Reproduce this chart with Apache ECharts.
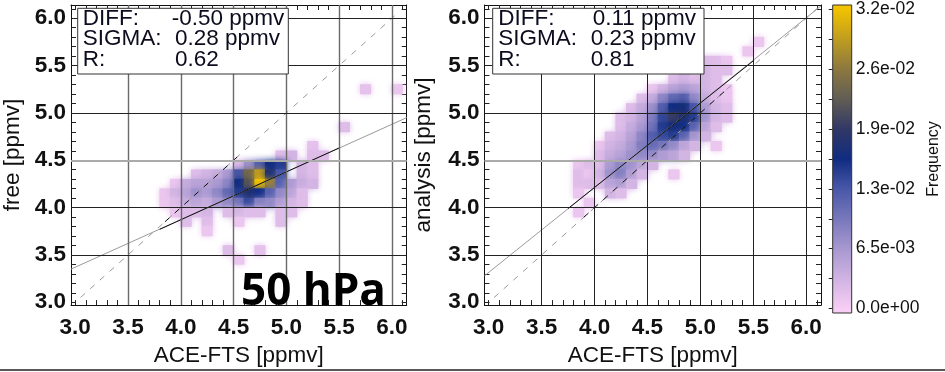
<!DOCTYPE html>
<html><head><meta charset="utf-8">
<script src="https://cdn.jsdelivr.net/npm/echarts@6/dist/echarts.min.js"></script>
<style>html,body{margin:0;padding:0;background:#fff}#chart{width:945px;height:372px}</style>
</head><body><div id="chart"></div>
<script>
// ---------------- data ----------------
const axisRangeX = [2.96, 6.14];
const axisRangeY = [2.97, 6.14];
const majorTicks = [3.0, 3.5, 4.0, 4.5, 5.0, 5.5, 6.0];
const gridValues = [3.5, 4.0, 4.5, 5.0, 5.5, 6.0];
const binSize = 0.1;
const xAxisTitle = 'ACE-FTS [ppmv]';
const leftYTitle = 'free [ppmv]';
const rightYTitle = 'analysis [ppmv]';
const pressureLabel = '50 hPa';
const statLabels = ['DIFF:', 'SIGMA:', 'R:'];
const leftStats = ['-0.50 ppmv', '0.28 ppmv', '0.62'];
const rightStats = ['0.11 ppmv', '0.23 ppmv', '0.81'];
const freqMax = 0.0324;
const cbTickValues = [0, 0.00648, 0.01296, 0.01944, 0.02592, 0.0324];
const cbTickLabels = ['0.0e+00', '6.5e-03', '1.3e-02', '1.9e-02', '2.6e-02', '3.2e-02'];
const colorbarRange = [-0.0005, 0.0329];
const colorbarTitle = 'Frequency';
const palette = ['#f7cef4','#d0b3e2','#a898d0','#7878bc','#4858a8','#102c81','#313866','#615d54','#8c7840','#bf9d20','#f2c200'];

// [x lower edge, y lower edge, frequency]
const leftFreq = [
  [5.7,5.2,0.0015],[6.0,5.2,0.001],
  [5.5,4.8,0.002],
  [5.2,4.6,0.0015],
  [4.9,4.5,0.002],[5.0,4.5,0.003],[5.2,4.5,0.002],[5.3,4.5,0.002],
  [4.5,4.4,0.002],[4.6,4.4,0.007],[4.7,4.4,0.012],[4.8,4.4,0.016],[4.9,4.4,0.015],[5.1,4.4,0.003],[5.2,4.4,0.002],
  [4.1,4.3,0.002],[4.2,4.3,0.003],[4.3,4.3,0.004],[4.4,4.3,0.006],[4.5,4.3,0.013],[4.6,4.3,0.024],[4.7,4.3,0.029],[4.8,4.3,0.018],[4.9,4.3,0.013],[5.1,4.3,0.003],[5.2,4.3,0.002],
  [3.9,4.2,0.001],[4.0,4.2,0.004],[4.1,4.2,0.005],[4.2,4.2,0.005],[4.3,4.2,0.006],[4.4,4.2,0.008],[4.5,4.2,0.016],[4.6,4.2,0.022],[4.7,4.2,0.0324],[4.8,4.2,0.027],[4.9,4.2,0.012],[5.0,4.2,0.006],[5.1,4.2,0.004],[5.2,4.2,0.003],
  [3.8,4.1,0.001],[3.9,4.1,0.003],[4.0,4.1,0.005],[4.1,4.1,0.007],[4.2,4.1,0.006],[4.3,4.1,0.008],[4.4,4.1,0.011],[4.5,4.1,0.015],[4.6,4.1,0.018],[4.7,4.1,0.016],[4.8,4.1,0.012],[4.9,4.1,0.008],[5.0,4.1,0.005],[5.1,4.1,0.002],
  [3.8,4.0,0.001],[3.9,4.0,0.002],[4.0,4.0,0.004],[4.1,4.0,0.005],[4.2,4.0,0.004],[4.3,4.0,0.006],[4.4,4.0,0.008],[4.5,4.0,0.010],[4.6,4.0,0.014],[4.7,4.0,0.009],[4.8,4.0,0.008],[4.9,4.0,0.006],[5.0,4.0,0.003],[5.1,4.0,0.002],
  [3.9,3.9,0.001],[4.0,3.9,0.002],[4.1,3.9,0.002],[4.2,3.9,0.003],[4.4,3.9,0.002],[4.5,3.9,0.003],[4.6,3.9,0.002],[4.7,3.9,0.002],[4.9,3.9,0.002],[5.0,3.9,0.002],
  [4.0,3.8,0.002],[4.2,3.8,0.002],[4.5,3.8,0.001],[4.9,3.8,0.002],
  [4.2,3.7,0.001],
  [4.4,3.5,0.002],[4.7,3.5,0.0015],
  [4.5,3.4,0.001]
];
const rightFreq = [
  [5.4,5.6,0.001],[5.5,5.7,0.001],
  [5.0,5.5,0.002],[5.1,5.5,0.002],[5.2,5.5,0.001],
  [4.8,5.4,0.002],[5.0,5.4,0.003],[5.1,5.4,0.002],[5.2,5.4,0.002],
  [4.7,5.3,0.002],[4.8,5.3,0.003],[4.9,5.3,0.002],[5.0,5.3,0.003],[5.1,5.3,0.002],
  [4.5,5.2,0.001],[4.6,5.2,0.003],[4.7,5.2,0.005],[4.8,5.2,0.006],[4.9,5.2,0.005],[5.0,5.2,0.003],[5.1,5.2,0.002],[5.2,5.2,0.001],
  [4.4,5.1,0.002],[4.5,5.1,0.004],[4.6,5.1,0.008],[4.7,5.1,0.011],[4.8,5.1,0.012],[4.9,5.1,0.008],[5.0,5.1,0.004],[5.1,5.1,0.002],[5.2,5.1,0.001],
  [4.3,5.0,0.002],[4.4,5.0,0.004],[4.5,5.0,0.007],[4.6,5.0,0.012],[4.7,5.0,0.016],[4.8,5.0,0.017],[4.9,5.0,0.013],[5.0,5.0,0.006],[5.1,5.0,0.003],[5.2,5.0,0.002],
  [4.2,4.9,0.002],[4.3,4.9,0.003],[4.4,4.9,0.005],[4.5,4.9,0.009],[4.6,4.9,0.014],[4.7,4.9,0.020],[4.8,4.9,0.018],[4.9,4.9,0.015],[5.0,4.9,0.007],[5.1,4.9,0.003],[5.2,4.9,0.002],
  [4.2,4.8,0.002],[4.3,4.8,0.004],[4.4,4.8,0.006],[4.5,4.8,0.010],[4.6,4.8,0.015],[4.7,4.8,0.017],[4.8,4.8,0.016],[4.9,4.8,0.012],[5.0,4.8,0.005],[5.1,4.8,0.002],
  [4.1,4.7,0.002],[4.2,4.7,0.003],[4.3,4.7,0.005],[4.4,4.7,0.008],[4.5,4.7,0.012],[4.6,4.7,0.014],[4.7,4.7,0.015],[4.8,4.7,0.012],[4.9,4.7,0.007],[5.0,4.7,0.003],
  [4.0,4.6,0.001],[4.1,4.6,0.003],[4.2,4.6,0.004],[4.3,4.6,0.006],[4.4,4.6,0.009],[4.5,4.6,0.011],[4.6,4.6,0.010],[4.7,4.6,0.008],[4.8,4.6,0.005],[4.9,4.6,0.003],[5.1,4.6,0.001],
  [4.0,4.5,0.002],[4.1,4.5,0.004],[4.2,4.5,0.005],[4.3,4.5,0.007],[4.4,4.5,0.008],[4.5,4.5,0.008],[4.6,4.5,0.006],[4.7,4.5,0.005],[4.8,4.5,0.003],
  [3.8,4.4,0.001],[3.9,4.4,0.002],[4.0,4.4,0.002],[4.1,4.4,0.006],[4.2,4.4,0.008],[4.3,4.4,0.007],[4.4,4.4,0.005],[4.5,4.4,0.003],
  [3.8,4.3,0.002],[3.9,4.3,0.001],[4.0,4.3,0.003],[4.1,4.3,0.007],[4.2,4.3,0.009],[4.3,4.3,0.006],[4.4,4.3,0.003],[4.7,4.3,0.001],
  [3.8,4.2,0.002],[3.9,4.2,0.002],[4.0,4.2,0.002],[4.1,4.2,0.005],[4.2,4.2,0.006],[4.3,4.2,0.003],
  [3.8,4.1,0.001],[4.1,4.1,0.003],[4.2,4.1,0.002],
  [3.8,3.9,0.001],[3.9,4.0,0.001]
];
// fit lines (end points)
const leftFit = [[2.96,3.35],[6.14,4.95]];
const leftFitCore = [[3.8,3.77],[5.5,4.63]];
const leftOneToOne = [[3.05,3.05],[6.05,6.05]];
const leftOneToOneCore = [[3.85,3.85],[4.55,4.55]];
const rightFit = [[2.96,3.28],[6.14,6.13]];
const rightFitCore = [[3.75,3.99],[5.5,5.55]];
const rightOneToOne = [[3.05,3.05],[6.12,6.12]];
const rightOneToOneCore = [[3.9,3.9],[5.25,5.25]];

// ---------------- chart ----------------
const minorTicks = [];
for (let k = 30; k <= 61; k++) minorTicks.push(k / 10);
const cbMinor = [];
for (let i = 0; i < cbTickValues.length - 1; i++) cbMinor.push(cbTickValues[i], (cbTickValues[i] + cbTickValues[i + 1]) / 2);
cbMinor.push(cbTickValues[cbTickValues.length - 1]);

const FONT = '"Liberation Sans", Arial, sans-serif';
const grids = [
  { left: 68.3, top: 5, width: 338.4, height: 307.7 },
  { left: 484.5, top: 5, width: 336.5, height: 307.7 },
  { left: 832.7, top: 5, width: 19, height: 308 }
];

function boxAxis(gridIndex, position, isX, showLabel, name, nameGap) {
  const r = isX ? axisRangeX : axisRangeY;
  return {
    type: 'value', gridIndex, position, min: r[0], max: r[1],
    axisLine: { show: true, onZero: false, lineStyle: { color: '#111', width: 1 } },
    axisTick: { show: true, inside: true, length: 5, customValues: minorTicks, lineStyle: { color: '#222', width: 1 } },
    axisLabel: showLabel ? {
      show: true, customValues: majorTicks, formatter: v => v.toFixed(1),
      fontFamily: FONT, fontWeight: 'bold', fontSize: 22.5, color: '#111', margin: isX ? 11 : 5
    } : { show: false },
    splitLine: { show: false },
    name: name || '', nameLocation: 'middle', nameGap: nameGap || 0,
    nameTextStyle: { fontFamily: FONT, fontSize: 22.5, color: '#111' }
  };
}

const xAxes = [
  boxAxis(0, 'bottom', true, true, xAxisTitle, 33),
  boxAxis(0, 'top', true, false),
  boxAxis(1, 'bottom', true, true, xAxisTitle, 33),
  boxAxis(1, 'top', true, false),
  { type: 'value', gridIndex: 2, min: 0, max: 1, show: false }
];
const yAxes = [
  boxAxis(0, 'left', false, true, leftYTitle, 47),
  boxAxis(0, 'right', false, false),
  boxAxis(1, 'left', false, true, rightYTitle, 49),
  boxAxis(1, 'right', false, false),
  {
    type: 'value', gridIndex: 2, position: 'right', min: colorbarRange[0], max: colorbarRange[1],
    axisLine: { show: false },
    axisTick: { show: true, inside: true, length: 4, customValues: cbMinor, lineStyle: { color: '#222' } },
    axisLabel: {
      show: true, customValues: cbTickValues, margin: 4,
      formatter: v => { for (let i = 0; i < cbTickValues.length; i++) if (Math.abs(cbTickValues[i] - v) < 1e-6) return cbTickLabels[i]; return ''; },
      fontFamily: FONT, fontSize: 17.5, color: '#111'
    },
    splitLine: { show: false },
    name: colorbarTitle, nameLocation: 'middle', nameRotate: 90, nameGap: 74,
    nameTextStyle: { fontFamily: FONT, fontSize: 16, color: '#111' }
  }
];

function heatSeries(data, xi, yi) {
  return {
    type: 'custom', xAxisIndex: xi, yAxisIndex: yi, data: data, z: 1,
    encode: { x: 0, y: 1 }, silent: true,
    renderItem: function (params, api) {
      const x0 = api.value(0), y0 = api.value(1);
      const p0 = api.coord([x0, y0 + binSize]);
      const p1 = api.coord([x0 + binSize, y0]);
      const c = api.visual('color');
      return {
        type: 'rect',
        shape: { x: p0[0] - 0.3, y: p0[1] - 0.3, width: p1[0] - p0[0] + 0.6, height: p1[1] - p0[1] + 0.6 },
        style: { fill: c, shadowBlur: 6, shadowColor: c }
      };
    }
  };
}

function gridMarkLine(vStyle, hStyle, specialH) {
  return {
    symbol: ['none', 'none'], silent: true, animation: false,
    label: { show: false }, emphasis: { disabled: true },
    data: gridValues.map(v => ({ xAxis: v, lineStyle: vStyle }))
      .concat(gridValues.map(v => ({ yAxis: v, lineStyle: v === 4.5 ? specialH : hStyle })))
  };
}

function lineSeries(data, xi, yi, color, dashed, z, markLine) {
  const s = {
    type: 'line', xAxisIndex: xi, yAxisIndex: yi, data: data, symbol: 'none', silent: true, z: z,
    lineStyle: { color: color, width: 1, type: dashed ? [6, 7] : 'solid' }, animation: false
  };
  if (markLine) s.markLine = markLine;
  return s;
}

const series = [
  heatSeries(leftFreq, 0, 0),
  heatSeries(rightFreq, 2, 2),
  lineSeries(leftFit, 0, 0, '#9a9a9a', false, 3,
    gridMarkLine({ color: '#6a6a6a', width: 1.4, type: 'solid' }, { color: '#222', width: 1, type: 'solid' }, { color: '#aaa', width: 2, type: 'solid' })),
  lineSeries(leftFitCore, 0, 0, '#111', false, 4),
  lineSeries(leftOneToOne, 0, 0, '#9a9a9a', true, 3),
  lineSeries(leftOneToOneCore, 0, 0, '#111', true, 4),
  lineSeries(rightFit, 2, 2, '#9a9a9a', false, 3,
    gridMarkLine({ color: '#222', width: 1, type: 'solid' }, { color: '#222', width: 1, type: 'solid' }, { color: '#aaa', width: 2, type: 'solid' })),
  lineSeries(rightFitCore, 2, 2, '#111', false, 4),
  lineSeries(rightOneToOne, 2, 2, '#9a9a9a', true, 3),
  lineSeries(rightOneToOneCore, 2, 2, '#111', true, 4),
  {
    type: 'custom', xAxisIndex: 4, yAxisIndex: 4, data: [[0, colorbarRange[0], colorbarRange[1]]], silent: true,
    renderItem: function (params, api) {
      const p0 = api.coord([0, api.value(2)]);
      const p1 = api.coord([1, api.value(1)]);
      const span = colorbarRange[1] - colorbarRange[0];
      const stops = palette.map((c, i) => ({
        offset: Math.min(1, Math.max(0, ((i / (palette.length - 1)) * freqMax - colorbarRange[0]) / span)), color: c
      }));
      stops.unshift({ offset: 0, color: palette[0] });
      stops.push({ offset: 1, color: palette[palette.length - 1] });
      return {
        type: 'rect',
        shape: { x: p0[0], y: p0[1], width: p1[0] - p0[0], height: p1[1] - p0[1] },
        style: { fill: new echarts.graphic.LinearGradient(0, 1, 0, 0, stops), stroke: '#333', lineWidth: 1 }
      };
    }
  }
];

function statGraphics(boxX, boxW, labelX, valueX, values) {
  const g = [{
    type: 'rect', z: 100, shape: { x: boxX, y: 8.3, width: boxW, height: 65.7 },
    style: { fill: '#fff', stroke: '#333', lineWidth: 1 }
  }];
  const ys = [18.7, 39, 59.3];
  statLabels.forEach((t, i) => {
    g.push({ type: 'text', z: 101, x: labelX, y: ys[i], style: { text: t, font: '22.5px ' + FONT, fill: '#0c0c1e', textAlign: 'left', textVerticalAlign: 'middle' } });
    g.push({ type: 'text', z: 101, x: valueX[i], y: ys[i], style: { text: values[i], font: '22.5px ' + FONT, fill: '#0c0c1e', textAlign: 'left', textVerticalAlign: 'middle' } });
  });
  return g;
}

const graphics = []
  .concat(statGraphics(77.7, 210.6, 82.7, [171.7, 175, 175], leftStats))
  .concat(statGraphics(492.7, 211.3, 498.3, [592.7, 590.7, 590.7], rightStats))
  .concat([
    { type: 'text', z: 101, x: 241, y: 292.5, style: { text: pressureLabel, font: 'bold 44px "Open Sans", sans-serif', fill: '#000', textAlign: 'left', textVerticalAlign: 'middle' } },
    { type: 'line', z: 101, shape: { x1: 0, y1: 370, x2: 945, y2: 370 }, style: { stroke: '#222', lineWidth: 1.5 } }
  ]);

const chart = echarts.init(document.getElementById('chart'), null, { renderer: 'canvas' });
chart.setOption({
  animation: false,
  backgroundColor: '#fff',
  grid: grids,
  xAxis: xAxes,
  yAxis: yAxes,
  visualMap: {
    show: false, type: 'continuous', min: 0, max: freqMax, dimension: 2, seriesIndex: [0, 1],
    inRange: { color: palette }
  },
  series: series,
  graphic: graphics
});
</script>
</body></html>
